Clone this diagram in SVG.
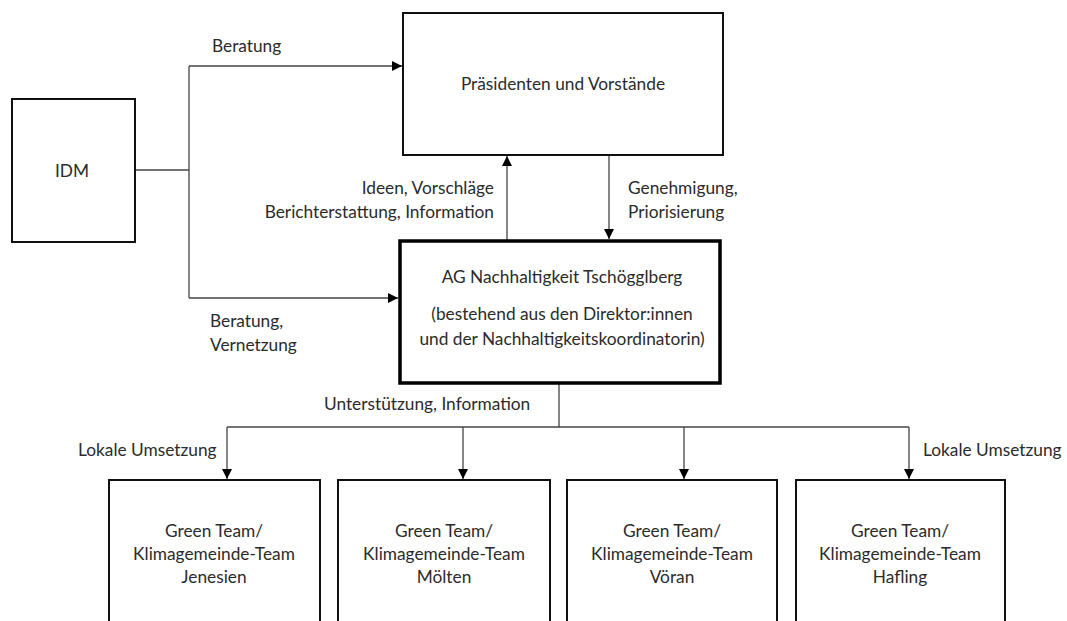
<svg xmlns="http://www.w3.org/2000/svg" width="1067" height="621" viewBox="0 0 1067 621">
<defs>
<style>
.box{fill:#fff;stroke:#111;stroke-width:2}
.thick{fill:#fff;stroke:#000;stroke-width:3.5}
.ln{fill:none;stroke:#444;stroke-width:1.3}
text{font-family:Lato,"Open Sans",sans-serif;font-size:17.3px;fill:#2b2b2b}
.c{text-anchor:middle}
.r{text-anchor:end}
</style>
<marker id="ah" viewBox="0 0 10 10" refX="10" refY="5" markerWidth="10" markerHeight="10" markerUnits="userSpaceOnUse" orient="auto">
<path d="M0,0 L10,5 L0,10 z" fill="#000"/>
</marker>
</defs>
<rect width="1067" height="621" fill="#fff"/>
<g id="connectors">
<path class="ln" d="M135,170 H189"/>
<path class="ln" d="M189,66 V298"/>
<path class="ln" d="M189,66 H402" marker-end="url(#ah)"/>
<path class="ln" d="M189,298 H398" marker-end="url(#ah)"/>
<path class="ln" d="M507,240 V156" marker-end="url(#ah)"/>
<path class="ln" d="M609,156 V239" marker-end="url(#ah)"/>
<path class="ln" d="M559,384 V427"/>
<path class="ln" d="M227,427 H909"/>
<path class="ln" d="M227,427 V479" marker-end="url(#ah)"/>
<path class="ln" d="M463,427 V479" marker-end="url(#ah)"/>
<path class="ln" d="M684,427 V479" marker-end="url(#ah)"/>
<path class="ln" d="M909,427 V479" marker-end="url(#ah)"/>
<text x="212" y="52">Beratung</text>
<text x="210" y="327">Beratung,</text>
<text x="210" y="351">Vernetzung</text>
<text class="r" x="494" y="194">Ideen, Vorschläge</text>
<text class="r" x="494" y="218">Berichterstattung, Information</text>
<text x="628" y="194">Genehmigung,</text>
<text x="628" y="218">Priorisierung</text>
<text x="324" y="410">Unterstützung, Information</text>
<text x="78" y="456">Lokale Umsetzung</text>
<text x="923" y="456">Lokale Umsetzung</text>
</g>
<g id="idm">
<rect class="box" x="12" y="99" width="123" height="143"/>
<text class="c" x="72" y="177">IDM</text>
</g>
<g id="praesidenten">
<rect class="box" x="403" y="13" width="320" height="142"/>
<text class="c" x="563" y="90">Präsidenten und Vorstände</text>
</g>
<g id="ag">
<rect class="thick" x="400" y="241" width="320" height="142"/>
<text class="c" x="562" y="283">AG Nachhaltigkeit Tschögglberg</text>
<text class="c" x="562" y="320">(bestehend aus den Direktor:innen</text>
<text class="c" x="562" y="345">und der Nachhaltigkeitskoordinatorin)</text>
</g>
<g id="jenesien">
<rect class="box" x="109" y="480" width="211" height="170"/>
<text class="c" x="214" y="537">Green Team/</text>
<text class="c" x="214" y="560">Klimagemeinde-Team</text>
<text class="c" x="214" y="583">Jenesien</text>
</g>
<g id="moelten">
<rect class="box" x="338" y="480" width="212" height="170"/>
<text class="c" x="444" y="537">Green Team/</text>
<text class="c" x="444" y="560">Klimagemeinde-Team</text>
<text class="c" x="444" y="583">Mölten</text>
</g>
<g id="voeran">
<rect class="box" x="567" y="480" width="210" height="170"/>
<text class="c" x="672" y="537">Green Team/</text>
<text class="c" x="672" y="560">Klimagemeinde-Team</text>
<text class="c" x="672" y="583">Vöran</text>
</g>
<g id="hafling">
<rect class="box" x="796" y="480" width="209" height="170"/>
<text class="c" x="900" y="537">Green Team/</text>
<text class="c" x="900" y="560">Klimagemeinde-Team</text>
<text class="c" x="900" y="583">Hafling</text>
</g>
</svg>
